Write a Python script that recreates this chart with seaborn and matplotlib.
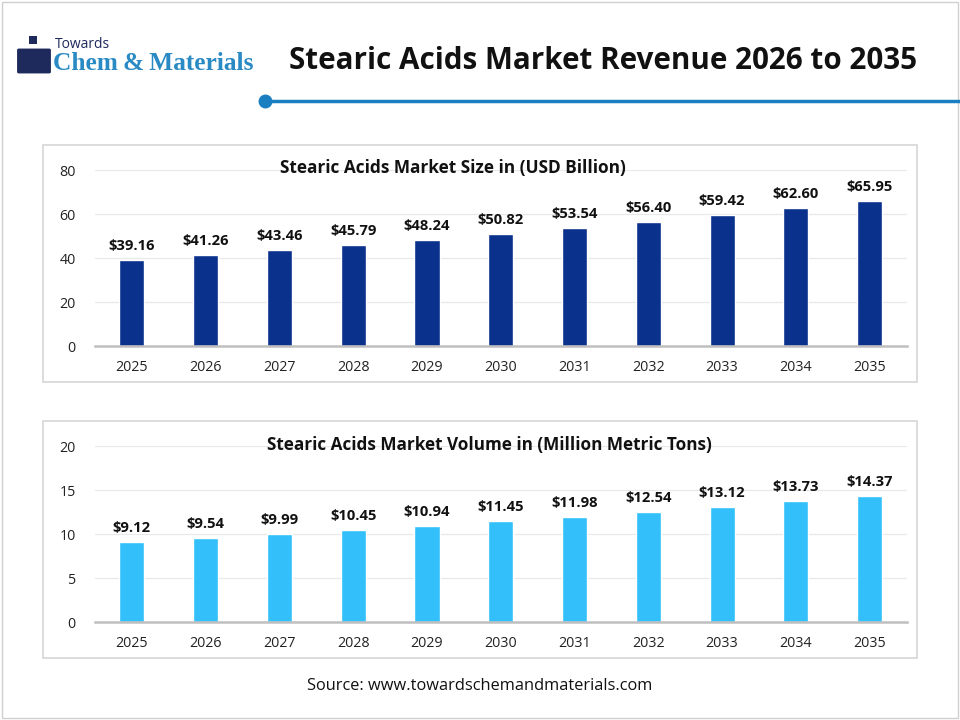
import matplotlib
matplotlib.use("Agg")
import matplotlib.pyplot as plt
import seaborn as sns
import pandas as pd
from matplotlib.patches import Rectangle, FancyBboxPatch
from matplotlib.lines import Line2D

years = ["2025", "2026", "2027", "2028", "2029", "2030", "2031", "2032", "2033", "2034", "2035"]
size_usd_bn = [39.16, 41.26, 43.46, 45.79, 48.24, 50.82, 53.54, 56.40, 59.42, 62.60, 65.95]
volume_mmt = [9.12, 9.54, 9.99, 10.45, 10.94, 11.45, 11.98, 12.54, 13.12, 13.73, 14.37]

sns.set_theme(style="white")
plt.rcParams["font.family"] = ["Open Sans", "DejaVu Sans"]

fig = plt.figure(figsize=(9.6, 7.2), dpi=100)
W, H = 960, 720

def fx(px):
    return px / W

def fy(py):
    return 1 - py / H

# outer frame
fig.patches.append(Rectangle((fx(2), fy(718)), fx(956), 716 / H, transform=fig.transFigure,
                             fill=False, edgecolor="#d0d0d0", linewidth=1))

# header
fig.text(fx(289), fy(61), "Stearic Acids Market Revenue 2026 to 2035", fontsize=21.3,
         fontweight="bold", color="#111111", va="center", ha="left")
fig.add_artist(Line2D([fx(265), fx(960)], [fy(101), fy(101)], transform=fig.transFigure,
                      color="#1a7fc1", linewidth=2.5))
fig.add_artist(Line2D([fx(265)], [fy(101)], transform=fig.transFigure, marker="o",
                      markersize=9, color="#1a7fc1"))

# logo
fig.text(fx(55), fy(45), "Towards", fontsize=10, color="#1f2a5c", va="center", ha="left")
fig.text(fx(53), fy(63), "Chem\u2009&\u2009Materials", fontsize=18.3, color="#2a8ac4",
         va="center", ha="left", family=["Liberation Serif", "DejaVu Serif"], fontweight="bold")
fig.patches.append(FancyBboxPatch((fx(19), fy(72)), fx(30), 22 / H, transform=fig.transFigure,
                                  boxstyle="round,pad=0.002", facecolor="#1f2a5c", edgecolor="none"))
fig.patches.append(Rectangle((fx(29), fy(44)), fx(8), 8 / H, transform=fig.transFigure,
                             facecolor="#1f2a5c", edgecolor="none"))

panels = [
    (size_usd_bn, "#0a318c", (145, 382), (170, 346), 80, 20,
     "Stearic Acids Market Size in (USD Billion)", 453, 168, 12.4),
    (volume_mmt, "#33c0fa", (421, 658), (446, 622), 20, 5,
     "Stearic Acids Market Volume in (Million Metric Tons)", 489, 445, 12.3),
]

for values, color, (btop, bbot), (atop, abot), ymax, step, title, tx, ty, tsize in panels:
    fig.patches.append(Rectangle((fx(43), fy(bbot)), fx(874), (bbot - btop) / H,
                                 transform=fig.transFigure, fill=False,
                                 edgecolor="#d6d6d6", linewidth=1.2))
    ax = fig.add_axes([fx(95), fy(abot), fx(811.5), (abot - atop) / H])
    df = pd.DataFrame({"year": years, "value": values})
    sns.barplot(data=df, x="year", y="value", color=color, width=0.34, saturation=1, ax=ax)
    ax.set_ylim(0, ymax)
    ax.set_yticks(range(0, ymax + 1, step))
    ax.grid(axis="y", color="#e8e8e8", linewidth=0.9)
    ax.set_axisbelow(True)
    for s in ["top", "right", "left"]:
        ax.spines[s].set_visible(False)
    ax.spines["bottom"].set_color("#bfbfbf")
    ax.spines["bottom"].set_linewidth(1.8)
    ax.tick_params(axis="both", length=0, labelsize=10.3, colors="#222222")
    ax.tick_params(axis="x", pad=10)
    ax.tick_params(axis="y", pad=14)
    ax.set_xlabel("")
    ax.set_ylabel("")
    for i, v in enumerate(values):
        ax.annotate(f"${v:.2f}", (i, v), xytext=(0, 5), textcoords="offset points",
                    ha="center", va="bottom", fontsize=10.6, fontweight="bold", color="#111111")
    fig.text(fx(tx), fy(ty), title, fontsize=tsize, fontweight="bold", color="#111111",
             ha="center", va="center")

fig.text(fx(480), fy(686), "Source: www.towardschemandmaterials.com", fontsize=11.8,
         color="#111111", ha="center", va="center")

fig.savefig("out.png", dpi=100, facecolor="white")
